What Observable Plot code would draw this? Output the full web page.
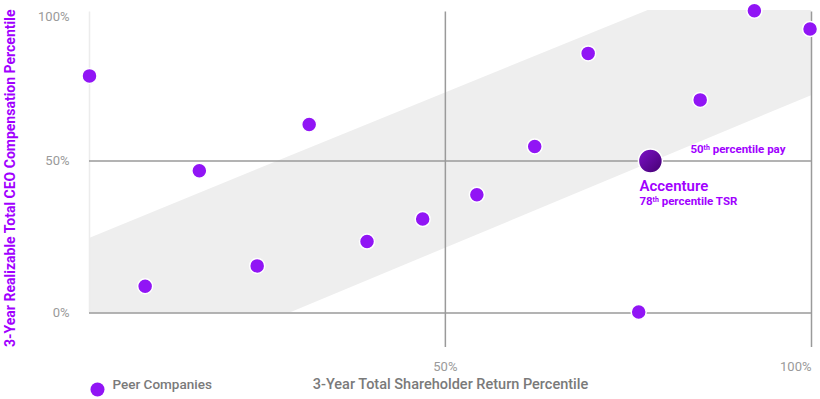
<!DOCTYPE html>
<html>
<head>
<meta charset="utf-8">
<script src="https://cdn.jsdelivr.net/npm/d3@7"></script>
<script src="https://cdn.jsdelivr.net/npm/@observablehq/plot@0.6"></script>
<style>
  html, body { margin: 0; padding: 0; background: #ffffff; }
  #chart svg { display: block; }
</style>
</head>
<body>
<div id="chart"></div>
<script>
// Peer companies: 3-year TSR percentile (x) and realizable CEO pay percentile (y)
const peerTSR = [1.4, 9.0, 16.4, 24.3, 31.4, 39.3, 46.9, 54.3, 62.2, 69.5, 76.4, 84.8, 92.2, 99.8];
const peerPay = [78.0, 8.8, 46.8, 15.5, 62.0, 23.5, 30.9, 38.9, 54.8, 85.4, 0.3, 70.1, 99.4, 93.4];

// Accenture
const acnName = "Accenture";
const acnTSR = 78;
const acnPay = 50;
const acnTSRLabel = "78th percentile TSR";
const acnPayLabel = "50th percentile pay";

// Alignment band (grey corridor)
const bandX = [1.4, 28.8, 77.7, 100];
const bandLow = [0, 0, 49.1, 71.5];
const bandHigh = [24.5, 51.6, 99.5, 99.5];

// Axes
const xDomain = [1.4, 100];
const yDomain = [-11.35, 100];
const xTicks = [50, 100];
const xTickLabels = ["50%", "100%"];
const yTicks = [0, 50, 100];
const yTickLabels = ["0%", "50%", "100%"];
const yRules = [0, 50];
const xRules = [50, 100];
const ruleTop = 99;
const xTitle = "3-Year Total Shareholder Return Percentile";
const yTitle = "3-Year Realizable Total CEO Compensation Percentile";
const legendLabel = "Peer Companies";

const peers = peerTSR.map((x, i) => ({x, y: peerPay[i]}));
const band = bandX.map((x, i) => ({x, lo: bandLow[i], hi: bandHigh[i]}));

const purple = "#a100ff";
const dotPurple = "#9115f5";
const grey = "#9a9a9a";
const font = "Roboto, 'Open Sans', sans-serif";

const chart = Plot.plot({
  width: 820,
  height: 399,
  marginLeft: 89,
  marginRight: 9,
  marginTop: 8.5,
  marginBottom: 52,
  x: {domain: xDomain, axis: null},
  y: {domain: yDomain, axis: null},
  style: {fontFamily: font, background: "#ffffff", overflow: "visible"},
  marks: [
    Plot.areaY(band, {x: "x", y1: "lo", y2: "hi", fill: "#eeeeee", curve: "linear"}),
    Plot.ruleX([xDomain[0]], {y1: 0, y2: ruleTop, stroke: "#ececec", strokeWidth: 1.5}),
    Plot.ruleY(yRules, {x1: xDomain[0], x2: 100, stroke: grey, strokeWidth: 1.5}),
    Plot.ruleX(xRules, {y1: yDomain[0], y2: ruleTop, stroke: grey, strokeWidth: 1.5}),
    // y tick labels
    Plot.text(yTicks.slice(0, 2), {x: xDomain[0], y: d => d, text: (d, i) => yTickLabels[i], dx: -20, textAnchor: "end", fill: grey, fontSize: 13}),
    Plot.text([yTicks[2]], {x: xDomain[0], y: d => d, text: () => yTickLabels[2], dx: -20, dy: 8, textAnchor: "end", fill: grey, fontSize: 13}),
    // x tick labels
    Plot.text([xTicks[0]], {x: d => d, y: yDomain[0], text: () => xTickLabels[0], dy: 19, textAnchor: "middle", fill: grey, fontSize: 13}),
    Plot.text([xTicks[1]], {x: d => d, y: yDomain[0], text: () => xTickLabels[1], dy: 19, textAnchor: "end", fill: grey, fontSize: 13}),
    // peers
    Plot.dot(peers, {x: "x", y: "y", r: 7.5, fill: dotPurple, stroke: "#ffffff", strokeWidth: 1.5}),
    // Accenture
    Plot.dot([{x: acnTSR, y: acnPay}], {x: "x", y: "y", r: 12, fill: "url(#acnGrad)", stroke: "#ffffff", strokeWidth: 1.5}),
    Plot.text([acnName], {x: acnTSR, y: acnPay, text: d => d, dx: -11, dy: 25, textAnchor: "start", fill: purple, fontSize: 15, fontWeight: 600}),
    Plot.text([acnTSRLabel], {x: acnTSR, y: acnPay, text: d => d, dx: -11, dy: 40, textAnchor: "start", fill: purple, fontSize: 11.5, fontWeight: 700}),
    Plot.text([acnPayLabel], {x: acnTSR, y: acnPay, text: d => d, dx: 40, dy: -12, textAnchor: "start", fill: purple, fontSize: 11.5, fontWeight: 700}),
    // axis titles
    Plot.text([yTitle], {frameAnchor: "left", text: d => d, rotate: -90, dx: -79, textAnchor: "middle", fill: purple, fontSize: 14, fontWeight: 700}),
    Plot.text([xTitle], {frameAnchor: "bottom", text: d => d, dy: 41, textAnchor: "middle", fill: "#7a7a7a", fontSize: 14.5, fontWeight: 500}),
    // legend
    Plot.dot([legendLabel], {frameAnchor: "bottom-left", dx: 8, dy: 42, r: 7, fill: dotPurple}),
    Plot.text([legendLabel], {frameAnchor: "bottom-left", text: d => d, dx: 23, dy: 41, textAnchor: "start", fill: "#7a7a7a", fontSize: 13.5, fontWeight: 500})
  ]
});

// gradient for Accenture dot
const svg = d3.select(chart);
const defs = svg.insert("defs", ":first-child");
const g = defs.append("linearGradient").attr("id", "acnGrad").attr("x1", "0%").attr("y1", "0%").attr("x2", "100%").attr("y2", "100%");
g.append("stop").attr("offset", "0%").attr("stop-color", "#7d12c9");
g.append("stop").attr("offset", "100%").attr("stop-color", "#440070");

// superscript ordinals
svg.selectAll("text").each(function() {
  const t = d3.select(this);
  const txt = this.textContent;
  const m = /^(\d+)th (.+)$/.exec(txt);
  if (m && this.children.length === 0) {
    t.text(null);
    t.append("tspan").text(m[1]);
    t.append("tspan").attr("font-size", "0.6em").attr("dy", "-0.45em").text("th");
    t.append("tspan").attr("dy", "0.27em").text(" " + m[2]);
  }
});

document.getElementById("chart").appendChild(chart);
</script>
</body>
</html>
